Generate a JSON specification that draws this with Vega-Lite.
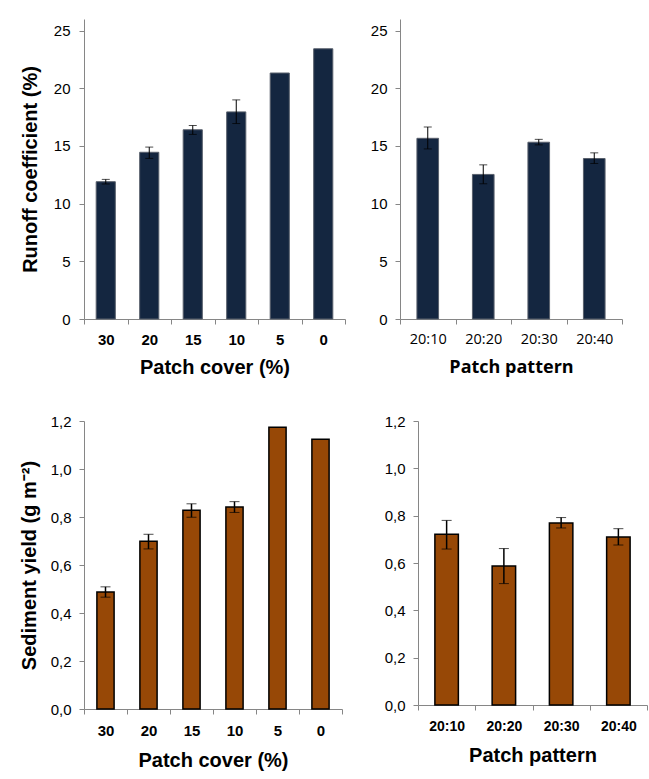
{
  "$schema": "https://vega.github.io/schema/vega-lite/v6.json",
  "padding": {"left": 19, "top": 19, "right": 5, "bottom": 5},
  "background": "white",
  "config": {
    "view": {"stroke": null},
    "axis": {"grid": false, "domainColor": "#868686", "tickColor": "#868686", "labelColor": "#000000", "titleColor": "#000000", "labelFont": "Liberation Sans", "titleFont": "Liberation Sans", "tickSize": 5, "titleFontWeight": "bold", "titleFontSize": 20, "labelFontSize": 15}
  },
  "vconcat": [
    {
      "hconcat": [
        {
          "width": 261, "height": 300,
          "data": {"values": [
            {"cover": "30", "v": 11.9, "lo": 11.7, "hi": 12.1},
            {"cover": "20", "v": 14.45, "lo": 13.92, "hi": 14.9},
            {"cover": "15", "v": 16.4, "lo": 16.0, "hi": 16.77},
            {"cover": "10", "v": 17.95, "lo": 16.94, "hi": 18.99},
            {"cover": "5", "v": 21.32, "lo": null, "hi": null},
            {"cover": "0", "v": 23.42, "lo": null, "hi": null}
          ]},
          "encoding": {"x": {"field": "cover", "type": "ordinal", "sort": ["30","20","15","10","5","0"], "scale": {"paddingInner": 0, "paddingOuter": 0},
            "axis": {"title": "Patch cover (%)", "labelAngle": 0, "tickBand": "extent", "labelFontWeight": "bold", "labelPadding": 8, "titlePadding": 10}}},
          "layer": [
            {"mark": {"type": "bar", "width": {"band": 0.44}, "color": "#142640", "stroke": "#59606c", "strokeWidth": 1},
             "encoding": {"y": {"field": "v", "type": "quantitative", "title": "Runoff coefficient (%)", "scale": {"domain": [0, 25]}, "axis": {"values": [0,5,10,15,20,25], "labelPadding": 9, "titlePadding": 13}}}},
            {"transform": [{"filter": "isValid(datum.lo)"}],
             "mark": {"type": "errorbar", "color": "black", "ticks": {"size": 8}, "rule": {"strokeWidth": 1}},
             "encoding": {"y": {"field": "lo", "type": "quantitative", "title": "Runoff coefficient (%)"}, "y2": {"field": "hi"}}}
          ]
        },
        {
          "width": 222, "height": 300,
          "data": {"values": [
            {"pattern": "20:10", "v": 15.66, "lo": 14.74, "hi": 16.64},
            {"pattern": "20:20", "v": 12.53, "lo": 11.72, "hi": 13.36},
            {"pattern": "20:30", "v": 15.32, "lo": 15.09, "hi": 15.57},
            {"pattern": "20:40", "v": 13.91, "lo": 13.48, "hi": 14.4}
          ]},
          "encoding": {"x": {"field": "pattern", "type": "ordinal", "scale": {"paddingInner": 0, "paddingOuter": 0},
            "axis": {"title": "Patch pattern", "labelAngle": 0, "tickBand": "extent", "labelFont": "Open Sans", "labelFontSize": 14.5, "titleFont": "Open Sans", "titleFontSize": 18, "labelPadding": 8, "titlePadding": 13}}},
          "layer": [
            {"mark": {"type": "bar", "width": {"band": 0.39}, "color": "#142640", "stroke": "#59606c", "strokeWidth": 1},
             "encoding": {"y": {"field": "v", "type": "quantitative", "title": null, "scale": {"domain": [0, 25]}, "axis": {"values": [0,5,10,15,20,25], "labelPadding": 8}}}},
            {"mark": {"type": "errorbar", "color": "black", "ticks": {"size": 8}, "rule": {"strokeWidth": 1}},
             "encoding": {"y": {"field": "lo", "type": "quantitative", "title": null}, "y2": {"field": "hi"}}}
          ]
        }
      ],
      "spacing": 24
    },
    {
      "hconcat": [
        {
          "width": 258, "height": 288,
          "data": {"values": [
            {"cover": "30", "v": 0.488, "lo": 0.466, "hi": 0.509},
            {"cover": "20", "v": 0.699, "lo": 0.667, "hi": 0.728},
            {"cover": "15", "v": 0.828, "lo": 0.799, "hi": 0.855},
            {"cover": "10", "v": 0.842, "lo": 0.819, "hi": 0.864},
            {"cover": "5", "v": 1.174, "lo": null, "hi": null},
            {"cover": "0", "v": 1.124, "lo": null, "hi": null}
          ]},
          "encoding": {"x": {"field": "cover", "type": "ordinal", "sort": ["30","20","15","10","5","0"], "scale": {"paddingInner": 0, "paddingOuter": 0},
            "axis": {"title": "Patch cover (%)", "labelAngle": 0, "tickBand": "extent", "labelFontWeight": "bold", "labelPadding": 9, "titlePadding": 12}}},
          "layer": [
            {"mark": {"type": "bar", "width": {"band": 0.4}, "color": "#974806", "stroke": "#000000", "strokeWidth": 1.5},
             "encoding": {"y": {"field": "v", "type": "quantitative", "title": "Sediment yield (g m⁻²)", "scale": {"domain": [0, 1.2]}, "axis": {"values": [0,0.2,0.4,0.6,0.8,1.0,1.2], "labelExpr": "replace(format(datum.value, '.1f'), '.', ',')", "labelPadding": 8, "titlePadding": 11}}}},
            {"transform": [{"filter": "isValid(datum.lo)"}],
             "mark": {"type": "errorbar", "color": "black", "ticks": {"size": 10, "strokeWidth": 1.5}, "rule": {"strokeWidth": 1.5}},
             "encoding": {"y": {"field": "lo", "type": "quantitative", "title": "Sediment yield (g m⁻²)"}, "y2": {"field": "hi"}}}
          ]
        },
        {
          "width": 229, "height": 284,
          "data": {"values": [
            {"pattern": "20:10", "v": 0.721, "lo": 0.659, "hi": 0.78},
            {"pattern": "20:20", "v": 0.587, "lo": 0.513, "hi": 0.661},
            {"pattern": "20:30", "v": 0.769, "lo": 0.748, "hi": 0.792},
            {"pattern": "20:40", "v": 0.71, "lo": 0.676, "hi": 0.745}
          ]},
          "encoding": {"x": {"field": "pattern", "type": "ordinal", "scale": {"paddingInner": 0, "paddingOuter": 0},
            "axis": {"title": "Patch pattern", "labelAngle": 0, "tickBand": "extent", "labelFontWeight": "bold", "labelFontSize": 14, "labelPadding": 9, "titlePadding": 12}}},
          "layer": [
            {"mark": {"type": "bar", "width": {"band": 0.41}, "color": "#974806", "stroke": "#000000", "strokeWidth": 1.5},
             "encoding": {"y": {"field": "v", "type": "quantitative", "title": null, "scale": {"domain": [0, 1.2]}, "axis": {"values": [0,0.2,0.4,0.6,0.8,1.0,1.2], "labelExpr": "replace(format(datum.value, '.1f'), '.', ',')", "labelPadding": 8}}}},
            {"mark": {"type": "errorbar", "color": "black", "ticks": {"size": 10, "strokeWidth": 1.5}, "rule": {"strokeWidth": 1.5}},
             "encoding": {"y": {"field": "lo", "type": "quantitative", "title": null}, "y2": {"field": "hi"}}}
          ]
        }
      ],
      "spacing": 41
    }
  ],
  "spacing": 37
}
